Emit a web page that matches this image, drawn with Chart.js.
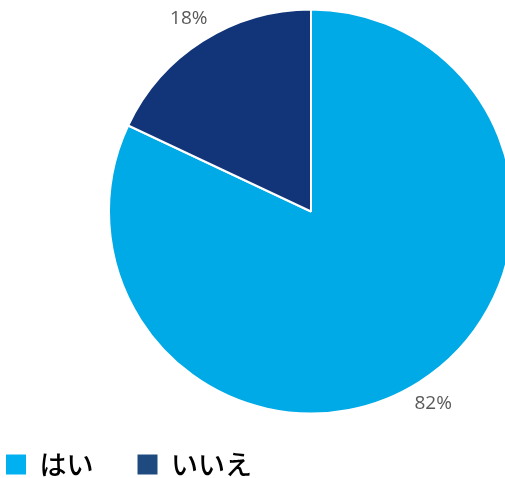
<!DOCTYPE html>
<html>
<head>
<meta charset="utf-8">
<script src="https://cdn.jsdelivr.net/npm/chart.js@4/dist/chart.umd.min.js"></script>
<style>
  html, body { margin: 0; padding: 0; background: #fff; overflow: hidden; width: 505px; height: 478px; }
  #wrap { position: absolute; left: -38px; top: 0; width: 698px; height: 488px; }
</style>
</head>
<body>
<div id="wrap"><canvas id="chart-1"></canvas></div>
<script>
var labels = ["はい", "いいえ"];
var values = [82, 18];
var sliceColors = ["#00AAE6", "#12357A"];
var legendColors = ["#00B0F0", "#1F4A80"];

// percentage text outside each slice
var outsideLabels = {
  id: "outsideLabels",
  afterDatasetsDraw: function (chart) {
    var ctx = chart.ctx;
    var meta = chart.getDatasetMeta(0);
    var total = values.reduce(function (a, b) { return a + b; }, 0);
    ctx.save();
    ctx.font = "19px 'Open Sans'";
    ctx.fillStyle = "#595959";
    ctx.textAlign = "center";
    ctx.textBaseline = "middle";
    meta.data.forEach(function (arc, i) {
      var mid = (arc.startAngle + arc.endAngle) / 2;
      var r = arc.outerRadius + 26;
      var x = arc.x + Math.cos(mid) * r;
      var y = arc.y + Math.sin(mid) * r;
      ctx.fillText(Math.round(values[i] / total * 100) + "%", x, y);
    });
    ctx.restore();
  }
};

const ctx = document.getElementById("chart-1").getContext("2d");
const myChart = new Chart(ctx, {
  type: "pie",
  data: {
    labels: labels,
    datasets: [
      {
        data: values,
        backgroundColor: sliceColors,
        borderColor: "#ffffff",
        borderWidth: 2,
        radius: 202,
        clip: false,
      },
    ],
  },
  options: {
    responsive: true,
    maintainAspectRatio: false,
    animation: false,
    layout: {
      padding: { top: 16 },
    },
    plugins: {
      tooltip: { enabled: false },
      legend: {
        position: "bottom",
        align: "start",
        labels: {
          boxWidth: 20,
          boxHeight: 20,
          padding: 44,
          color: "#000000",
          font: { size: 27, weight: "500", family: "'Noto Sans CJK JP'" },
          generateLabels: function (chart) {
            return labels.map(function (t, i) {
              return {
                text: t,
                fillStyle: legendColors[i],
                strokeStyle: legendColors[i],
                lineWidth: 0,
                index: i,
              };
            });
          },
        },
      },
    },
  },
  plugins: [outsideLabels],
});
</script>
</body>
</html>
